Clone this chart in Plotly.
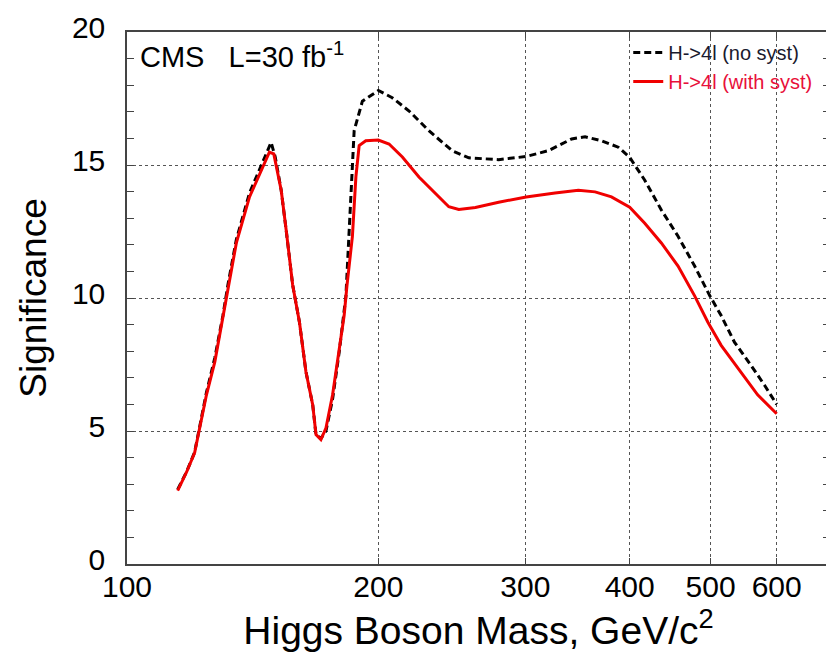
import plotly.graph_objects as go

# Higgs mass (GeV/c^2) and significance, H->4l without systematics
mass_nosyst = [115, 117.8, 120.5, 122.2, 124.5, 127.4, 130.3, 132.1, 135.2, 140.2, 145.4,
               148.8, 150.5, 153, 155.1, 157.9, 160.9, 163.8, 166.9, 168.4, 170.7, 173.1,
               176.3, 179.6, 182.9, 184.5, 187.1, 191.4, 200, 207.8, 217.7, 229.9, 245.1,
               256.7, 278.7, 300.7, 319.8, 340.9, 353.7, 370.1, 387.6, 400, 417, 436.5,
               457.1, 478.5, 498.6, 514.8, 534, 558.9, 580, 600]
sig_nosyst = [2.8, 3.45, 4.2, 5.15, 6.45, 7.75, 9.35, 10.5, 12.2, 13.95, 15.1,
              15.85, 15.3, 14.05, 12.56, 10.5, 9.09, 7.23, 5.98, 4.87, 4.72, 5.0,
              6.2, 8.0, 10.08, 12.32, 16.29, 17.4, 17.8, 17.53, 17.03, 16.29, 15.54,
              15.27, 15.2, 15.32, 15.54, 15.98, 16.06, 15.91, 15.67, 15.29, 14.43, 13.31,
              12.32, 11.2, 10.1, 9.34, 8.34, 7.47, 6.73, 6.0]

# H->4l with systematics
mass_syst = [115, 117.8, 120.5, 122.2, 124.5, 127.4, 130.3, 132.1, 135.2, 140.2, 145.4,
             148.1, 149.9, 153, 155.1, 157.9, 160.9, 163.8, 166.9, 168.4, 170.7, 173.1,
             176.3, 179.6, 182, 183.4, 186.2, 188, 189.7, 193.2, 200, 206, 213.7, 223.7,
             232.1, 242.9, 249.7, 261.4, 278.7, 300.7, 325.6, 347.2, 363.6, 380.4, 400,
             417, 436.5, 457.1, 478.5, 496.3, 514.8, 543.8, 569.3, 600]
sig_syst = [2.76, 3.44, 4.18, 5.11, 6.36, 7.6, 9.3, 10.3, 12.07, 13.8, 14.92,
            15.48, 15.42, 14.05, 12.56, 10.5, 9.09, 7.23, 5.98, 4.87, 4.68, 5.11,
            6.36, 8.09, 9.34, 10.45, 12.32, 14.55, 15.73, 15.91, 15.94, 15.79, 15.3, 14.55,
            14.05, 13.43, 13.33, 13.4, 13.6, 13.8, 13.95, 14.05, 13.99, 13.8, 13.41,
            12.81, 12.07, 11.2, 10.08, 9.09, 8.22, 7.23, 6.36, 5.65]

x_ticks = [100, 200, 300, 400, 500, 600]
y_ticks = [0, 5, 10, 15, 20]

FONT = "Liberation Sans, Arial, sans-serif"
RED = "#f00000"

fig = go.Figure()
fig.add_trace(go.Scatter(
    x=mass_nosyst, y=sig_nosyst, mode="lines",
    name="<span style='color:#1a1a2e'>H->4l (no syst)</span>",
    line=dict(color="black", width=3, dash="7px,4px"),
))
fig.add_trace(go.Scatter(
    x=mass_syst, y=sig_syst, mode="lines",
    name="<span style='color:#e8103a'>H->4l (with syst)</span>",
    line=dict(color=RED, width=3),
))

# the page body adds an 8px offset, so the figure is 8px smaller and margins shifted
fig.update_layout(
    width=826, height=650,
    margin=dict(l=119, r=2, t=19, b=94),
    paper_bgcolor="white", plot_bgcolor="white",
    font=dict(family=FONT, color="black"),
    showlegend=True,
    legend=dict(x=0.713, y=0.998, xanchor="left", yanchor="top",
                bgcolor="rgba(0,0,0,0)", font=dict(size=20, family=FONT),
                tracegroupgap=0),
    annotations=[dict(
        x=0.016, y=0.957, xref="paper", yref="paper", xanchor="left", yanchor="middle",
        text="CMS   L=30 fb<sup>-1</sup>", showarrow=False,
        font=dict(size=29, family=FONT, color="black"),
    )],
)

fig.update_xaxes(
    type="log", range=[2, 2.842],
    tickvals=x_ticks, ticktext=[str(v) for v in x_ticks],
    tickfont=dict(size=30, family=FONT),
    ticks="inside", ticklen=6, tickcolor="#444",
    showline=True, linecolor="#444", linewidth=1.5, mirror="ticks",
    showgrid=True, gridcolor="#555", griddash="dot", gridwidth=1,
    zeroline=False, ticklabelstandoff=-5,
    title=dict(text="Higgs Boson Mass, GeV/c<sup>2</sup>", font=dict(size=39, family=FONT),
               standoff=10),
)
fig.update_yaxes(
    range=[0, 20], tickvals=y_ticks,
    tickfont=dict(size=30, family=FONT),
    ticks="inside", ticklen=7, tickcolor="#444",
    minor=dict(dtick=1, ticks="inside", ticklen=7, tickcolor="#444", showgrid=False),
    showline=True, linecolor="#444", linewidth=1.5, mirror="ticks",
    showgrid=True, gridcolor="#555", griddash="dot", gridwidth=1,
    zeroline=False, ticklabelstandoff=14, ticklabelshift=-5,
    ticklabeloverflow="allow",
    title=dict(text="Significance", font=dict(size=37, family=FONT), standoff=14),
)

fig.write_html("out.html")
